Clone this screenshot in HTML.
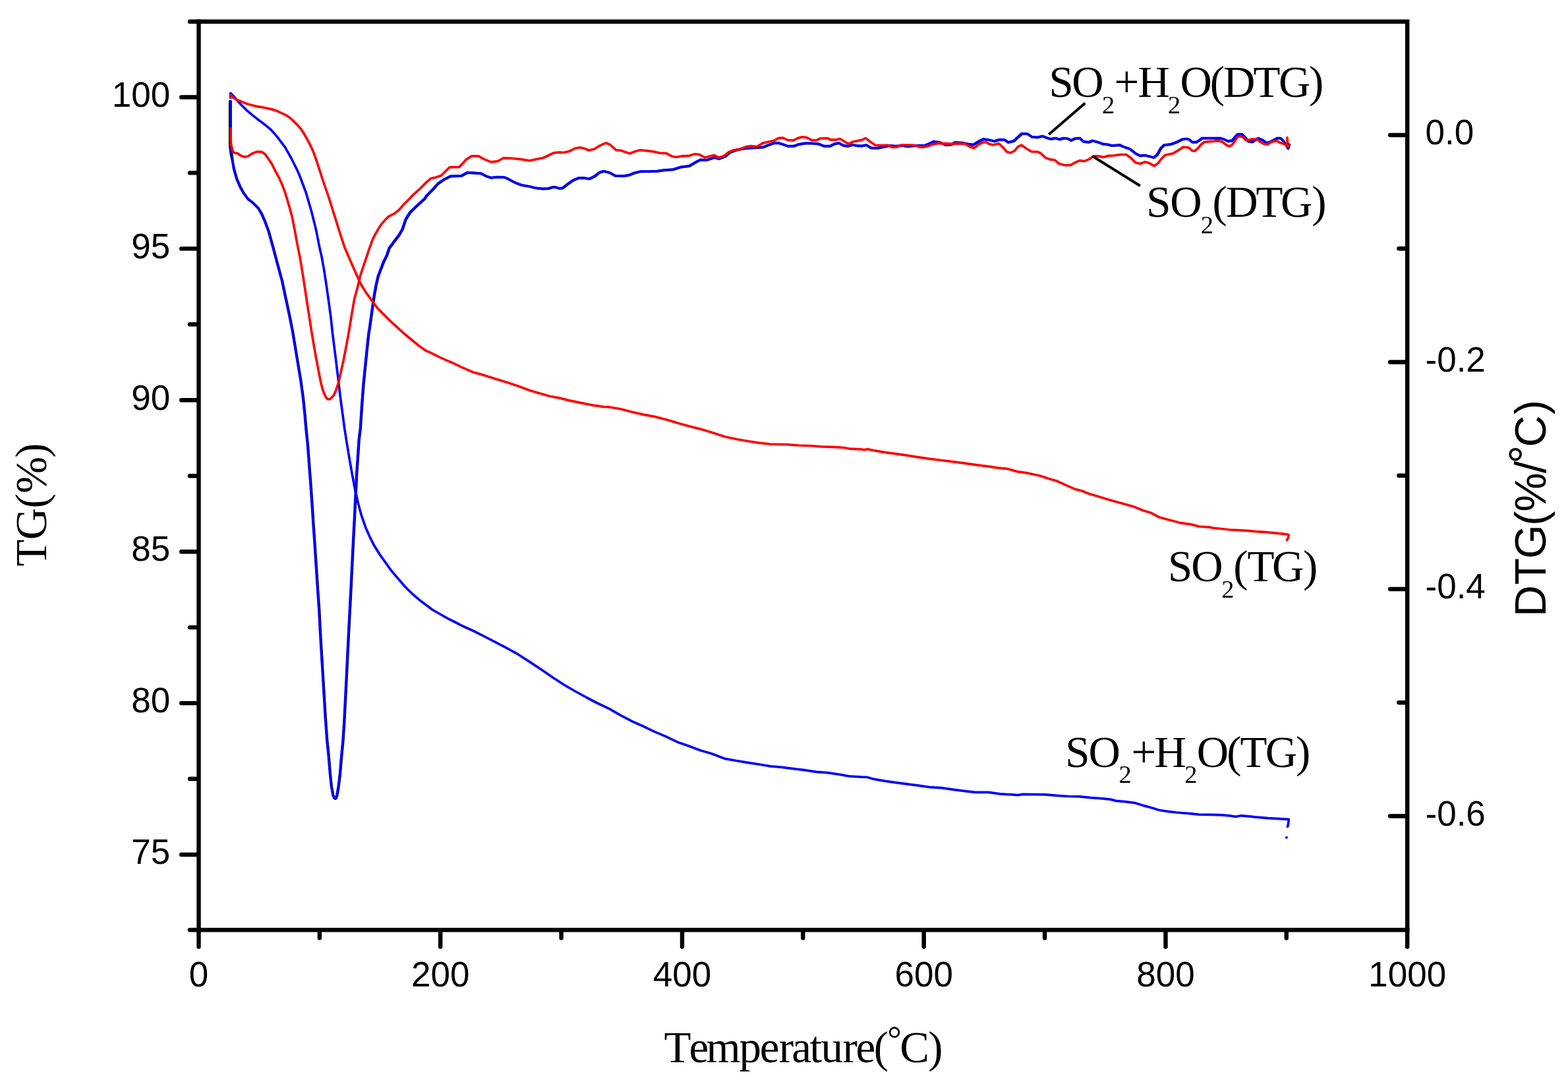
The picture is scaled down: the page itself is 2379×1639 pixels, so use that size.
<!DOCTYPE html>
<html lang="en"><head><meta charset="utf-8"><title>TG / DTG curves</title>
<style>html,body{margin:0;padding:0;background:#fff}body{width:2379px;height:1639px;overflow:hidden}svg{display:block}.ser{font-family:"Liberation Serif","Times New Roman",serif;font-size:67px;fill:#000}.tk{font-family:"Liberation Sans",Arial,sans-serif;font-size:53px;fill:#000}.art{font-family:"Liberation Sans",Arial,sans-serif;font-size:66.5px;fill:#000}.ax{stroke:#000;fill:none;stroke-linecap:round}.cv{fill:none;stroke-width:3.7;stroke-linejoin:round;stroke-linecap:round}</style></head><body>
<svg width="2379" height="1639" viewBox="0 0 2379 1639" role="img" aria-label="TG and DTG curves versus temperature">
<rect x="0" y="0" width="2379" height="1639" fill="#fff"/>
<g class="cv">
<path d="M348.8,153.5 L348.8,220.8 L350.5,234.7 L355.1,255.7 L359.4,271.2 L364.6,283.3 L369.8,292.8 L376.7,302.3 L383.6,307.5 L392.2,316.1 L397.4,324.7 L402.6,336.8 L407.7,350.6 L414.6,375.3 L421.5,401.2 L428.5,427.1 L433.6,451.3 L438.8,475.4 L444.0,501.3 L448.3,527.2 L452.6,553.1 L456.9,579.0 L460.4,604.9 L463.0,630.8 L464.7,650.3 L467.3,676.2 L469.9,710.7 L472.5,745.3 L474.2,771.1 L475.9,797.0 L477.7,822.9 L479.4,848.8 L481.1,874.7 L482.8,900.6 L484.6,925.3 L486.3,959.8 L488.9,1003.0 L491.5,1046.1 L494.1,1089.3 L496.6,1123.8 L499.3,1150.3 L501.0,1171.9 L503.2,1193.5 L505.8,1207.4 L507.5,1211.3 L508.8,1212.1 L510.1,1211.3 L511.8,1206.5 L514.0,1193.5 L516.1,1176.2 L518.3,1150.3 L520.8,1123.8 L522.5,1097.9 L524.3,1063.4 L526.0,1028.9 L527.7,994.4 L529.4,959.8 L531.2,925.3 L532.9,892.0 L534.6,857.5 L536.3,822.9 L538.1,788.4 L539.8,753.9 L541.5,719.4 L543.3,693.5 L545.0,667.6 L547.2,649.8 L549.3,617.0 L551.9,582.5 L554.5,556.6 L557.1,530.7 L559.7,506.5 L560.9,499.5 L563.4,482.0 L565.9,463.2 L568.4,446.9 L570.9,433.1 L574.1,419.3 L578.4,408.1 L582.2,398.0 L587.2,388.0 L591.0,376.7 L598.5,366.7 L606.0,356.7 L611.0,347.9 L616.0,332.9 L622.3,322.9 L631.1,314.1 L644.9,301.6 L647.8,297.0 L658.0,286.8 L664.8,278.9 L673.8,272.7 L683.9,267.7 L699.7,267.1 L700.7,266.9 L709.3,262.1 L719.7,262.6 L730.0,263.4 L738.7,267.8 L745.6,270.0 L754.2,269.0 L764.6,269.1 L769.8,270.9 L776.7,274.7 L783.6,278.1 L792.2,281.2 L804.3,283.3 L812.9,285.5 L823.3,286.7 L831.9,286.4 L838.8,284.2 L844.0,284.5 L849.2,286.2 L854.3,285.4 L861.3,279.8 L869.9,273.8 L878.5,270.3 L887.1,270.3 L894.1,271.7 L902.7,267.8 L909.6,262.1 L916.5,260.0 L925.1,262.2 L933.8,266.9 L945.8,267.4 L954.5,266.0 L963.1,262.6 L971.7,260.5 L985.6,260.5 L997.6,260.0 L1008.0,258.3 L1021.8,257.4 L1033.9,253.6 L1046.0,252.2 L1056.3,246.2 L1063.2,242.7 L1071.9,243.2 L1078.8,241.0 L1084.0,239.3 L1090.9,241.3 L1100.7,237.5 L1107.6,231.5 L1118.0,227.7 L1130.0,225.5 L1143.9,224.3 L1157.7,223.7 L1166.3,220.3 L1174.9,217.3 L1181.8,217.2 L1188.7,219.4 L1195.7,222.0 L1204.3,222.0 L1212.9,219.1 L1221.5,217.7 L1231.9,217.7 L1242.3,218.6 L1250.9,222.0 L1259.5,222.0 L1266.4,218.6 L1273.3,217.3 L1280.2,221.1 L1287.1,222.0 L1294.1,219.9 L1301.0,221.5 L1307.9,221.7 L1314.8,220.3 L1321.7,224.6 L1332.0,224.9 L1342.4,222.9 L1349.3,221.1 L1359.7,222.0 L1370.0,221.1 L1376.9,222.5 L1390.7,221.1 L1404.5,220.8 L1411.4,217.7 L1416.6,215.1 L1425.3,216.0 L1435.6,220.3 L1444.2,219.4 L1449.4,216.3 L1459.8,216.8 L1468.4,218.6 L1477.0,219.9 L1485.7,214.6 L1492.6,211.3 L1500.7,212.5 L1509.3,214.6 L1516.2,212.2 L1524.9,212.5 L1530.0,216.3 L1538.7,214.2 L1543.9,209.1 L1550.8,203.0 L1559.4,203.4 L1566.3,208.2 L1574.9,208.7 L1581.8,206.8 L1588.7,209.4 L1593.9,211.1 L1602.6,209.9 L1607.7,211.7 L1614.6,209.9 L1621.5,210.8 L1625.0,213.4 L1631.9,210.3 L1638.8,209.9 L1644.0,215.1 L1652.6,216.0 L1657.8,213.7 L1666.4,216.0 L1673.3,218.6 L1680.2,219.4 L1687.1,221.1 L1699.2,220.3 L1706.1,223.4 L1714.8,226.3 L1723.4,233.2 L1730.3,236.7 L1737.2,235.8 L1744.1,237.5 L1751.0,239.3 L1756.2,235.0 L1761.4,225.5 L1766.6,220.3 L1776.9,219.1 L1785.6,216.0 L1794.2,211.7 L1800.7,210.8 L1805.0,212.1 L1809.3,216.0 L1815.4,216.0 L1819.7,213.4 L1824.0,210.0 L1835.3,210.0 L1852.6,210.0 L1857.8,211.7 L1863.8,214.7 L1869.9,213.4 L1874.2,208.2 L1878.5,203.9 L1884.6,203.9 L1889.8,209.1 L1894.1,214.7 L1900.1,215.6 L1904.5,212.6 L1909.6,210.0 L1915.7,212.6 L1921.8,216.9 L1926.9,216.0 L1933.0,212.6 L1938.2,210.0 L1943.4,210.0 L1947.7,214.3 L1952.0,220.3 L1954.6,225.5 L1956.3,219.5" stroke="#000"/>
<path d="M349.7,148.2 L349.7,141.3 L352.6,144.1 L357.1,148.9 L361.6,154.2 L366.1,159.2 L370.6,163.6 L375.1,168.1 L382.6,174.4 L390.2,180.4 L397.7,186.0 L405.2,191.9 L410.0,195.9 L413.8,199.8 L417.5,204.1 L421.3,208.6 L425.0,213.5 L428.8,218.6 L432.6,223.7 L435.6,228.9 L438.6,234.2 L441.6,239.5 L444.6,245.5 L447.6,251.5 L450.6,257.5 L453.6,264.3 L455.9,270.0 L464.0,291.6 L472.6,321.0 L479.5,348.6 L484.7,375.0 L488.2,390.5 L491.6,409.5 L495.1,432.0 L498.5,456.1 L502.0,482.0 L504.6,506.2 L507.2,526.9 L509.8,547.6 L512.3,568.4 L514.9,590.8 L517.5,611.5 L520.1,630.5 L522.7,650.0 L526.2,672.4 L530.5,698.3 L534.8,722.5 L539.1,745.0 L543.4,763.9 L548.6,782.9 L554.6,800.2 L560.7,814.0 L567.6,827.8 L576.2,841.6 L584.9,853.7 L593.5,865.8 L603.8,877.9 L614.2,890.0 L624.6,900.3 L636.6,910.7 L647.0,918.5 L655.6,925.0 L666.0,931.0 L679.8,938.8 L690.2,944.0 L700.0,949.2 L717.3,957.0 L734.5,965.6 L751.8,974.6 L769.1,983.7 L786.3,993.2 L803.6,1004.4 L820.8,1015.7 L838.1,1027.8 L855.4,1039.0 L872.6,1049.0 L889.9,1058.5 L907.2,1067.5 L924.4,1075.7 L941.7,1085.6 L959.0,1094.7 L976.2,1102.3 L993.5,1110.6 L1010.7,1117.9 L1028.0,1126.2 L1045.3,1132.2 L1062.5,1138.8 L1079.8,1143.8 L1100.0,1151.4 L1117.3,1154.5 L1134.5,1157.4 L1151.8,1160.0 L1169.1,1162.8 L1186.3,1164.4 L1203.6,1166.6 L1220.8,1168.7 L1238.1,1171.4 L1255.4,1172.6 L1272.6,1175.2 L1289.9,1178.2 L1307.2,1179.2 L1315.8,1179.5 L1324.4,1182.1 L1341.7,1185.1 L1359.0,1187.7 L1376.2,1189.9 L1393.5,1192.1 L1410.7,1194.7 L1428.0,1195.6 L1445.3,1198.2 L1462.5,1200.3 L1479.8,1202.3 L1500.0,1202.3 L1517.3,1204.9 L1534.5,1205.9 L1544.9,1206.6 L1551.8,1205.4 L1569.1,1205.7 L1586.3,1205.9 L1603.6,1207.4 L1620.8,1208.5 L1638.1,1208.8 L1655.4,1210.6 L1672.6,1211.9 L1684.7,1213.1 L1693.4,1215.4 L1707.2,1216.6 L1721.0,1218.3 L1733.1,1222.1 L1746.9,1225.7 L1759.0,1229.5 L1772.8,1231.6 L1784.9,1233.0 L1802.1,1234.4 L1819.4,1236.1 L1836.6,1236.4 L1853.9,1236.8 L1867.7,1238.2 L1874.6,1239.4 L1883.3,1237.8 L1900.0,1239.4 L1903.6,1239.9 L1924.3,1241.6 L1941.5,1242.6 L1955.3,1243.3 L1954.7,1249.6 L1953.6,1254.7" stroke="#00f"/>
<path d="M350.1,153.5 L350.1,220.8 L351.8,234.7 L354.4,255.4 L358.7,270.9 L363.9,283.0 L369.1,292.5 L376.0,302.0 L382.9,307.2 L391.5,315.8 L396.7,324.4 L401.9,336.5 L407.0,350.3 L413.9,375.0 L420.8,400.9 L427.8,426.8 L432.9,451.0 L438.1,475.1 L443.3,501.0 L447.6,526.9 L451.9,552.8 L456.2,578.7 L459.7,604.6 L462.3,630.5 L464.0,650.0 L466.6,675.9 L469.2,710.4 L471.8,745.0 L473.5,770.8 L475.2,796.7 L477.0,822.6 L478.7,848.5 L480.4,874.4 L482.1,900.3 L483.9,925.0 L485.6,959.5 L488.2,1002.7 L490.8,1045.8 L493.4,1089.0 L495.9,1123.5 L498.6,1150.0 L500.3,1171.6 L502.5,1193.2 L505.1,1207.1 L506.8,1211.0 L508.1,1211.8 L509.4,1211.0 L511.1,1206.2 L513.3,1193.2 L515.4,1175.9 L517.6,1150.0 L520.1,1123.5 L521.8,1097.6 L523.6,1063.1 L525.3,1028.6 L527.0,994.1 L528.7,959.5 L530.5,925.0 L532.2,891.7 L533.9,857.2 L535.6,822.6 L537.4,788.1 L539.1,753.6 L540.8,719.1 L542.6,693.2 L544.3,667.3 L546.5,649.5 L548.6,616.7 L551.2,582.2 L553.8,556.3 L556.4,530.4 L559.0,506.2 L560.2,499.2 L562.7,481.7 L565.2,462.9 L567.7,446.6 L570.2,432.8 L573.4,419.0 L577.7,407.8 L581.5,397.7 L586.5,387.7 L590.3,376.4 L597.8,366.4 L605.3,356.4 L610.3,347.6 L615.3,332.6 L621.6,322.6 L630.4,313.8 L644.2,301.3 L647.1,296.7 L657.3,286.5 L664.1,278.6 L673.1,272.4 L683.2,267.4 L699.0,266.8 L700.0,266.6 L708.6,261.8 L719.0,262.3 L729.3,263.1 L738.0,267.5 L744.9,269.7 L753.5,268.7 L763.9,268.8 L769.1,270.6 L776.0,274.4 L782.9,277.8 L791.5,280.9 L803.6,283.0 L812.2,285.2 L822.6,286.4 L831.2,286.1 L838.1,283.9 L843.3,284.2 L848.5,285.9 L853.6,285.1 L860.6,279.5 L869.2,273.5 L877.8,270.0 L886.4,270.0 L893.4,271.4 L902.0,267.5 L908.9,261.8 L915.8,259.7 L924.4,261.9 L933.1,266.6 L945.1,267.1 L953.8,265.7 L962.4,262.3 L971.0,260.2 L984.9,260.2 L996.9,259.7 L1007.3,258.0 L1021.1,257.1 L1033.2,253.3 L1045.3,251.9 L1055.6,245.9 L1062.5,242.4 L1071.2,242.9 L1078.1,240.7 L1083.3,239.0 L1090.2,241.0 L1100.0,237.2 L1106.9,231.2 L1117.3,227.4 L1129.3,225.2 L1143.2,224.0 L1157.0,223.4 L1165.6,220.0 L1174.2,217.0 L1181.1,216.9 L1188.0,219.1 L1195.0,221.7 L1203.6,221.7 L1212.2,218.8 L1220.8,217.4 L1231.2,217.4 L1241.6,218.3 L1250.2,221.7 L1258.8,221.7 L1265.7,218.3 L1272.6,217.0 L1279.5,220.8 L1286.4,221.7 L1293.4,219.6 L1300.3,221.2 L1307.2,221.4 L1314.1,220.0 L1321.0,224.3 L1331.3,224.6 L1341.7,222.6 L1348.6,220.8 L1359.0,221.7 L1369.3,220.8 L1376.2,222.2 L1390.0,220.8 L1403.8,220.5 L1410.7,217.4 L1415.9,214.8 L1424.6,215.7 L1434.9,220.0 L1443.5,219.1 L1448.7,216.0 L1459.1,216.5 L1467.7,218.3 L1476.3,219.6 L1485.0,214.3 L1491.9,211.0 L1500.0,212.2 L1508.6,214.3 L1515.5,211.9 L1524.2,212.2 L1529.3,216.0 L1538.0,213.9 L1543.2,208.8 L1550.1,202.7 L1558.7,203.1 L1565.6,207.9 L1574.2,208.4 L1581.1,206.5 L1588.0,209.1 L1593.2,210.8 L1601.9,209.6 L1607.0,211.4 L1613.9,209.6 L1620.8,210.5 L1624.3,213.1 L1631.2,210.0 L1638.1,209.6 L1643.3,214.8 L1651.9,215.7 L1657.1,213.4 L1665.7,215.7 L1672.6,218.3 L1679.5,219.1 L1686.4,220.8 L1698.5,220.0 L1705.4,223.1 L1714.1,226.0 L1722.7,232.9 L1729.6,236.4 L1736.5,235.5 L1743.4,237.2 L1750.3,239.0 L1755.5,234.7 L1760.7,225.2 L1765.9,220.0 L1776.2,218.8 L1784.9,215.7 L1793.5,211.4 L1800.0,210.5 L1804.3,211.8 L1808.6,215.7 L1814.7,215.7 L1819.0,213.1 L1823.3,209.7 L1834.6,209.7 L1851.9,209.7 L1857.1,211.4 L1863.1,214.4 L1869.2,213.1 L1873.5,207.9 L1877.8,203.6 L1883.9,203.6 L1889.1,208.8 L1893.4,214.4 L1899.4,215.3 L1903.8,212.3 L1908.9,209.7 L1915.0,212.3 L1921.1,216.6 L1926.2,215.7 L1932.3,212.3 L1937.5,209.7 L1942.7,209.7 L1947.0,214.0 L1951.3,220.0 L1953.9,225.2 L1955.6,219.2" stroke="#00f"/>
<path d="M350.1,195.0 L350.1,212.2 L350.9,220.8 L352.7,227.8 L354.4,231.5 L360.4,232.9 L365.6,236.4 L370.8,238.1 L376.0,237.2 L382.9,232.9 L389.8,230.3 L396.7,230.3 L401.9,233.8 L407.0,240.7 L412.2,248.5 L417.4,258.8 L422.6,268.3 L427.8,279.5 L432.9,293.4 L438.1,310.6 L443.3,329.6 L446.7,346.9 L451.9,375.0 L455.4,392.3 L458.8,413.0 L462.3,435.4 L465.7,457.9 L469.2,480.3 L472.6,502.8 L476.1,523.5 L479.5,542.5 L483.0,561.4 L486.4,578.7 L489.0,589.1 L491.6,596.8 L494.7,603.2 L497.3,606.0 L499.9,606.0 L502.8,603.9 L506.3,599.9 L509.2,593.9 L511.7,586.5 L514.1,578.7 L517.5,563.2 L521.0,547.6 L524.4,530.4 L527.9,511.4 L530.1,499.2 L533.9,475.4 L537.6,454.1 L542.7,435.3 L546.4,419.0 L551.4,404.0 L555.2,392.7 L560.2,377.7 L565.2,363.9 L570.2,353.9 L577.7,341.4 L585.3,332.6 L590.3,328.2 L597.8,324.4 L605.3,318.8 L612.8,310.0 L621.6,301.3 L625.7,296.7 L635.9,287.7 L647.1,276.4 L653.9,270.8 L661.8,269.1 L669.7,266.2 L682.1,253.8 L696.8,253.3 L700.0,250.2 L706.9,242.4 L715.5,236.9 L725.9,236.9 L734.5,241.6 L744.9,245.9 L755.2,244.7 L763.9,239.8 L774.2,240.2 L789.8,241.6 L803.6,243.8 L813.9,241.6 L824.3,239.5 L832.9,235.5 L839.8,232.1 L848.5,231.2 L855.4,231.5 L864.0,229.5 L872.6,225.2 L879.5,223.8 L886.4,225.2 L893.4,228.3 L902.0,226.0 L908.9,221.7 L915.8,218.3 L920.1,217.0 L926.2,220.0 L934.8,227.8 L941.7,228.3 L948.6,230.7 L955.5,232.9 L962.4,230.3 L971.0,227.8 L979.7,228.6 L990.0,229.8 L1000.4,232.1 L1010.7,232.6 L1019.4,237.2 L1026.3,238.5 L1034.9,236.9 L1045.3,236.4 L1053.9,233.8 L1060.8,234.3 L1069.4,239.0 L1076.3,237.2 L1083.3,235.5 L1090.2,239.0 L1097.1,237.2 L1100.0,235.5 L1105.2,231.2 L1112.1,228.1 L1122.4,226.4 L1131.1,222.9 L1139.7,221.7 L1148.3,222.6 L1157.0,217.4 L1165.6,215.3 L1174.2,213.6 L1181.1,209.6 L1188.0,209.1 L1195.0,212.6 L1203.6,213.1 L1210.5,209.6 L1217.4,207.9 L1224.3,208.8 L1231.2,212.6 L1238.1,213.1 L1245.0,210.0 L1255.4,209.8 L1260.6,212.2 L1267.5,212.2 L1274.4,210.5 L1281.3,214.8 L1287.3,218.3 L1293.4,215.3 L1300.3,213.9 L1307.2,212.6 L1313.2,209.6 L1319.2,214.3 L1327.9,220.3 L1338.2,220.5 L1346.9,220.3 L1353.8,223.4 L1360.7,223.1 L1367.6,220.0 L1376.2,220.0 L1386.6,220.3 L1393.5,222.6 L1400.4,223.4 L1409.0,221.4 L1415.9,218.8 L1424.6,217.4 L1434.9,217.9 L1445.3,218.3 L1455.6,217.9 L1464.3,218.3 L1471.2,222.6 L1478.1,224.6 L1485.0,219.1 L1491.9,216.0 L1497.1,216.0 L1500.0,218.3 L1506.9,220.0 L1515.5,217.9 L1522.4,224.3 L1527.6,230.3 L1532.8,232.1 L1539.7,228.6 L1544.9,222.2 L1550.1,220.3 L1557.0,225.2 L1564.7,230.0 L1574.2,230.3 L1579.4,232.9 L1586.3,239.5 L1593.2,241.9 L1600.1,242.9 L1607.0,248.5 L1615.7,250.7 L1624.3,250.7 L1631.2,246.7 L1638.1,243.6 L1645.0,244.7 L1651.9,241.9 L1658.8,237.2 L1665.7,236.9 L1674.4,238.6 L1681.3,236.4 L1689.9,236.0 L1700.3,234.7 L1708.9,234.7 L1715.8,239.8 L1722.7,246.7 L1729.6,248.5 L1736.5,245.9 L1743.4,247.3 L1751.2,251.9 L1757.2,247.6 L1762.4,240.7 L1767.6,235.5 L1779.7,232.9 L1788.3,227.8 L1795.2,223.1 L1800.0,223.5 L1804.3,224.4 L1808.6,228.7 L1813.0,229.1 L1817.3,225.2 L1821.6,220.0 L1826.8,215.7 L1834.6,214.9 L1841.5,214.4 L1849.3,213.6 L1855.3,215.7 L1860.5,220.0 L1864.9,222.2 L1869.2,220.0 L1873.5,214.0 L1877.8,207.9 L1882.1,206.6 L1886.5,208.8 L1890.8,213.1 L1895.1,212.3 L1899.4,211.0 L1907.2,211.4 L1912.4,215.7 L1917.6,218.3 L1923.6,219.2 L1928.0,216.1 L1934.0,214.0 L1938.3,214.4 L1942.7,217.0 L1947.0,217.9 L1951.3,220.5 L1953.9,222.2 L1953.0,208.8 L1953.5,221.8" stroke="#f00"/>
<path d="M350.5,147.1 L350.5,144.4 L351.8,146.9 L355.6,149.4 L360.1,151.8 L367.6,154.8 L375.1,157.8 L382.6,159.7 L390.2,161.6 L397.7,162.7 L405.2,164.2 L410.0,165.4 L416.0,166.9 L421.3,168.8 L426.5,171.4 L432.6,174.1 L438.6,177.8 L443.1,181.6 L447.6,186.1 L452.1,190.6 L456.6,195.9 L461.1,202.6 L464.9,209.4 L468.6,216.2 L471.7,222.2 L474.7,228.9 L477.7,236.5 L479.9,243.2 L482.2,250.0 L484.4,256.8 L486.7,263.5 L488.6,270.0 L498.5,298.5 L507.2,326.2 L515.8,353.8 L522.7,375.0 L527.9,387.1 L533.1,399.2 L540.0,414.7 L546.9,430.2 L555.5,444.1 L564.1,456.1 L572.8,467.7 L583.1,478.1 L593.5,488.4 L603.8,497.9 L614.2,507.2 L624.6,515.7 L634.9,524.2 L645.3,531.8 L655.6,536.4 L666.0,541.6 L676.3,546.4 L686.7,550.7 L700.0,557.1 L717.3,564.7 L734.5,569.4 L751.8,575.1 L769.1,580.3 L786.3,586.0 L803.6,592.4 L820.8,597.5 L834.7,601.5 L848.5,603.9 L864.0,607.9 L881.3,611.4 L898.5,614.8 L915.8,617.4 L924.4,617.7 L941.7,620.8 L959.0,625.2 L976.2,629.1 L993.5,632.4 L1010.7,636.7 L1028.0,641.9 L1045.3,646.7 L1062.5,651.1 L1079.8,656.2 L1100.0,662.7 L1117.3,666.5 L1134.5,669.5 L1151.8,672.2 L1169.1,674.0 L1195.0,674.6 L1212.2,676.0 L1229.5,676.5 L1246.7,677.8 L1264.0,678.3 L1281.3,679.5 L1289.9,681.2 L1303.7,681.7 L1312.3,682.6 L1315.8,681.5 L1324.4,683.4 L1341.7,686.4 L1359.0,688.6 L1376.2,691.2 L1393.5,693.8 L1410.7,696.4 L1428.0,698.5 L1445.3,700.7 L1462.5,702.8 L1479.8,705.4 L1500.0,707.9 L1513.8,710.1 L1527.6,711.3 L1543.2,715.6 L1560.4,718.2 L1577.7,722.0 L1589.8,726.0 L1603.6,730.0 L1617.4,736.4 L1631.2,742.4 L1641.6,745.0 L1651.9,749.3 L1664.0,752.8 L1676.1,756.5 L1689.9,760.5 L1707.2,765.2 L1721.0,769.2 L1733.1,774.3 L1746.9,778.6 L1759.0,785.0 L1772.8,788.7 L1790.0,793.3 L1807.3,795.9 L1819.4,799.0 L1836.6,800.2 L1840.6,801.4 L1853.6,802.5 L1866.5,804.0 L1879.5,804.7 L1892.4,805.3 L1905.4,806.6 L1918.3,807.3 L1931.3,808.6 L1944.2,809.8 L1952.0,810.8 L1955.2,811.8 L1954.6,815.7 L1952.6,819.6" stroke="#f00"/>
<circle cx="1951.9" cy="1271.0" r="2.1" fill="#00f" stroke="none"/>
</g>
<g stroke="#000" stroke-width="4" stroke-linecap="butt" fill="none">
<line x1="1591.3" y1="204" x2="1646.3" y2="156.6"/>
<line x1="1657.6" y1="237" x2="1729.8" y2="282"/>
</g>
<g class="ax" stroke-width="6.4">
<path d="M301.5,32.8 L2135.2,32.8 L2135.2,1411.2" stroke-linejoin="miter" stroke-linecap="butt"/>
<path d="M301.5,29.6 L301.5,1411.2 L2138.4,1411.2" stroke-linejoin="miter" stroke-linecap="butt"/>
</g>
<g class="ax" stroke-width="6.4">
<line x1="288.0" y1="32.8" x2="300.0" y2="32.8"/>
<line x1="275.2" y1="147.5" x2="300.0" y2="147.5"/>
<line x1="288.0" y1="262.4" x2="300.0" y2="262.4"/>
<line x1="275.2" y1="377.4" x2="300.0" y2="377.4"/>
<line x1="288.0" y1="492.3" x2="300.0" y2="492.3"/>
<line x1="275.2" y1="607.3" x2="300.0" y2="607.3"/>
<line x1="288.0" y1="722.2" x2="300.0" y2="722.2"/>
<line x1="275.2" y1="837.2" x2="300.0" y2="837.2"/>
<line x1="288.0" y1="952.1" x2="300.0" y2="952.1"/>
<line x1="275.2" y1="1067.1" x2="300.0" y2="1067.1"/>
<line x1="288.0" y1="1182.0" x2="300.0" y2="1182.0"/>
<line x1="275.2" y1="1297.0" x2="300.0" y2="1297.0"/>
<line x1="288.0" y1="1411.2" x2="300.0" y2="1411.2"/>
<line x1="2109.2" y1="205.0" x2="2133.7" y2="205.0"/>
<line x1="2122.4" y1="377.2" x2="2133.7" y2="377.2"/>
<line x1="2109.2" y1="549.5" x2="2133.7" y2="549.5"/>
<line x1="2122.4" y1="721.8" x2="2133.7" y2="721.8"/>
<line x1="2109.2" y1="894.0" x2="2133.7" y2="894.0"/>
<line x1="2122.4" y1="1066.2" x2="2133.7" y2="1066.2"/>
<line x1="2109.2" y1="1238.5" x2="2133.7" y2="1238.5"/>
<line x1="301.5" y1="1412.7" x2="301.5" y2="1436.8"/>
<line x1="484.9" y1="1412.7" x2="484.9" y2="1423.6"/>
<line x1="668.2" y1="1412.7" x2="668.2" y2="1436.8"/>
<line x1="851.6" y1="1412.7" x2="851.6" y2="1423.6"/>
<line x1="1035.0" y1="1412.7" x2="1035.0" y2="1436.8"/>
<line x1="1218.3" y1="1412.7" x2="1218.3" y2="1423.6"/>
<line x1="1401.7" y1="1412.7" x2="1401.7" y2="1436.8"/>
<line x1="1585.1" y1="1412.7" x2="1585.1" y2="1423.6"/>
<line x1="1768.5" y1="1412.7" x2="1768.5" y2="1436.8"/>
<line x1="1951.8" y1="1412.7" x2="1951.8" y2="1423.6"/>
<line x1="2135.2" y1="1412.7" x2="2135.2" y2="1436.8"/>
</g>
<g class="tk">
<text x="258.3" y="161.7" text-anchor="end">100</text>
<text x="258.3" y="391.6" text-anchor="end">95</text>
<text x="258.3" y="621.5" text-anchor="end">90</text>
<text x="258.3" y="851.4" text-anchor="end">85</text>
<text x="258.3" y="1081.3" text-anchor="end">80</text>
<text x="258.3" y="1311.2" text-anchor="end">75</text>
<text x="2162.5" y="219.2">0.0</text>
<text x="2162.5" y="563.7">-0.2</text>
<text x="2162.5" y="908.2">-0.4</text>
<text x="2162.5" y="1252.7">-0.6</text>
<text x="301.5" y="1496.6" text-anchor="middle">0</text>
<text x="668.2" y="1496.6" text-anchor="middle">200</text>
<text x="1035.0" y="1496.6" text-anchor="middle">400</text>
<text x="1401.7" y="1496.6" text-anchor="middle">600</text>
<text x="1768.5" y="1496.6" text-anchor="middle">800</text>
<text x="2135.2" y="1496.6" text-anchor="middle">1000</text>
</g>
<text class="ser" y="147.2"><tspan x="1591.5 1626.2" y="147.2">SO</tspan><tspan x="1672.0" y="171.7" font-size="38.5">2</tspan><tspan x="1690.4 1726.5" y="147.2">+H</tspan><tspan x="1772.0" y="171.7" font-size="38.5">2</tspan><tspan x="1790.5 1835.8 1855.9 1901.5 1939.9 1986.1" y="147.2">O(DTG)</tspan></text>
<text class="ser" y="329.3"><tspan x="1739.2 1775.3" y="329.3">SO</tspan><tspan x="1821.7" y="354.0" font-size="38.5">2</tspan><tspan x="1839.5 1860.2 1905.5 1943.0 1990.2" y="329.3">(DTG)</tspan></text>
<text class="ser" y="882.4"><tspan x="1772.1 1807.3" y="882.4">SO</tspan><tspan x="1853.2" y="906.7" font-size="38.5">2</tspan><tspan x="1871.3 1892.5 1929.9 1977.0" y="882.4">(TG)</tspan></text>
<text class="ser" y="1164.0"><tspan x="1616.3 1651.6" y="1164.0">SO</tspan><tspan x="1697.4" y="1188.4" font-size="38.5">2</tspan><tspan x="1716.5 1751.5" y="1164.0">+H</tspan><tspan x="1797.2" y="1188.4" font-size="38.5">2</tspan><tspan x="1815.7 1861.3 1881.5 1919.7 1965.9" y="1164.0">O(TG)</tspan></text>
<text class="ser" y="1611.7"><tspan x="1007.5 1045.5 1071.6 1121.5 1152.8 1181.7 1201.2 1228.4 1245.6 1278.6 1298.4 1325.8" y="1611.7">Temperature(</tspan><tspan x="1346.2" y="1594.5" font-size="54">°</tspan><tspan x="1365.3 1408.2" y="1611.7">C)</tspan></text>
<text class="ser" y="0.0" transform="translate(69.8,0) rotate(-90)"><tspan x="-859.4 -819.3 -771.4 -748.8 -694.7" y="0.0">TG(%)</tspan></text>
<text class="art" y="0.0" transform="translate(2345.1,0) rotate(-90)"><tspan x="-935.9 -887.4 -848.1 -797.8 -776.5 -718.3" y="0.0">DTG(%/</tspan><tspan x="-703.7" y="-6.4" font-size="71">°</tspan><tspan x="-678.5 -628.9" y="0.0">C)</tspan></text>
</svg></body></html>
